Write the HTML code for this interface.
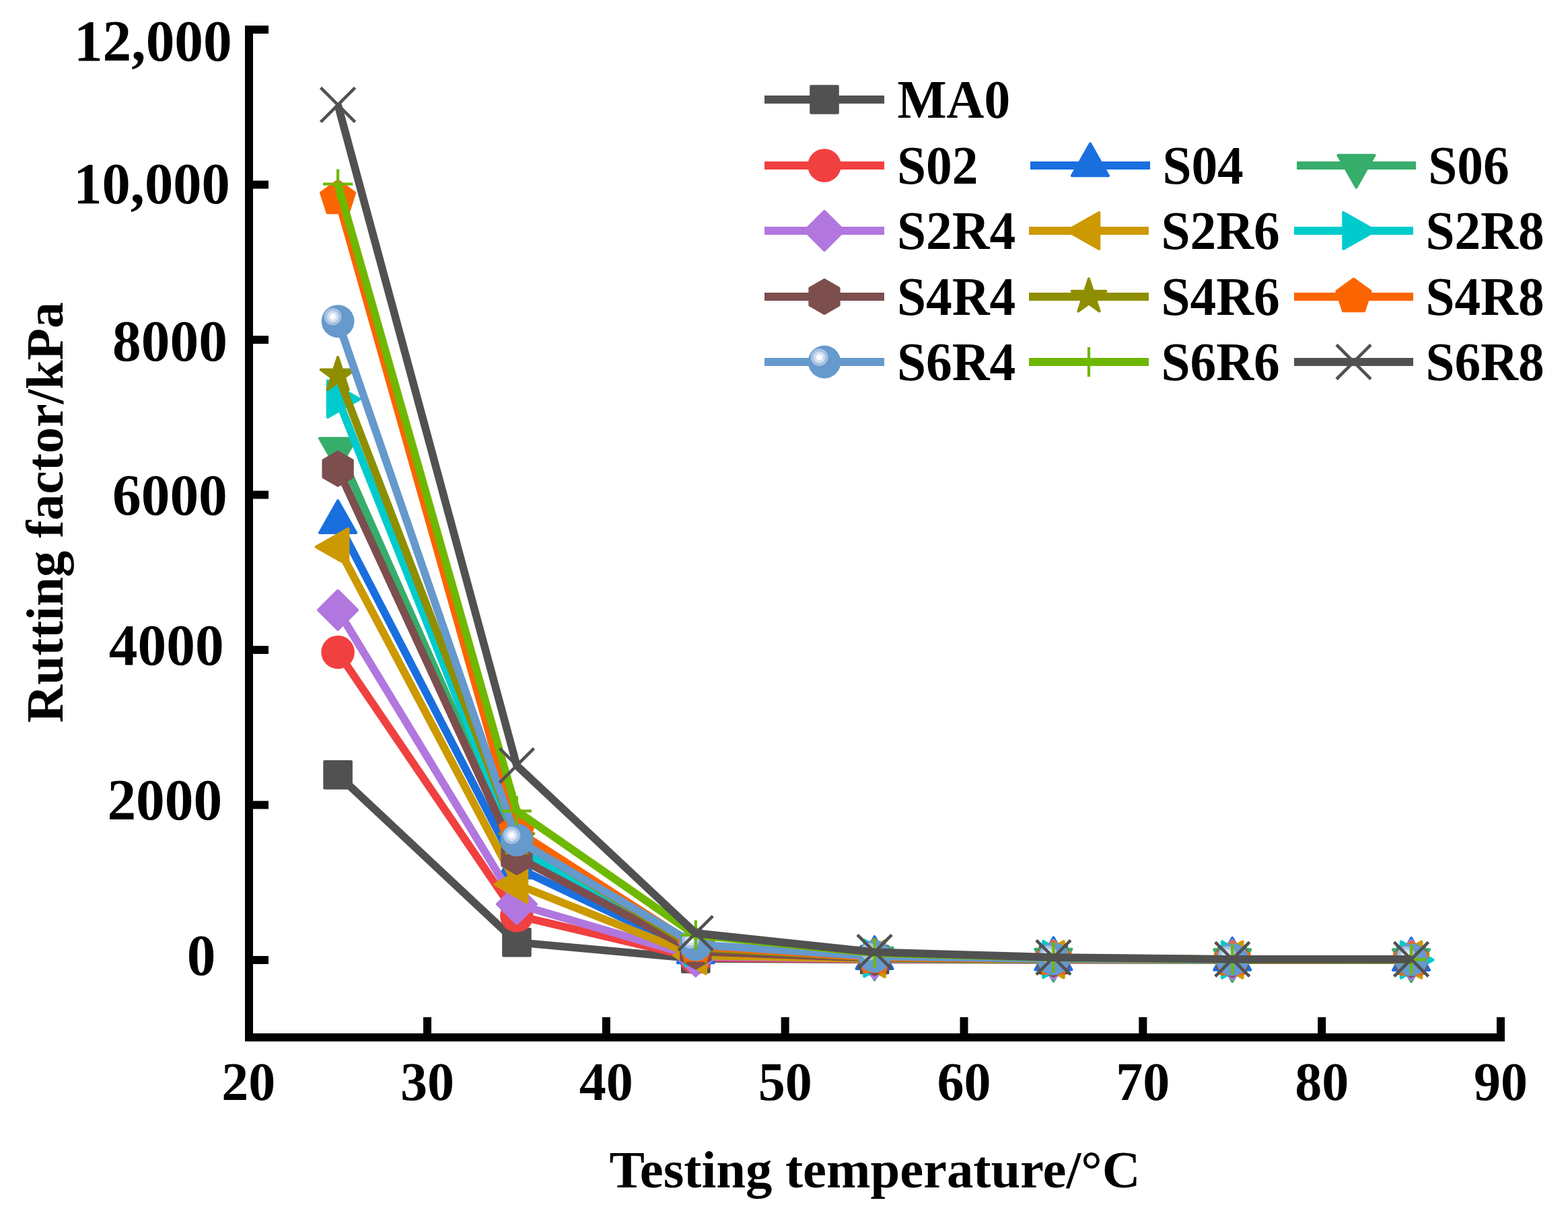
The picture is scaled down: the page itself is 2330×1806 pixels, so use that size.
<!DOCTYPE html>
<html><head><meta charset="utf-8"><style>html,body{margin:0;padding:0;background:#fff;}svg{display:block;}text{font-family:"Liberation Serif","Times New Roman",serif;font-weight:bold;fill:#000;}</style></head><body>
<svg width="2330" height="1806" viewBox="0 0 2330 1806">
<rect width="2330" height="1806" fill="#fff"/>
<g id="plot">
<path d="M502.09,1151.78 L767.91,1400.72 L1033.74,1424.93 L1299.57,1426.42 L1565.4,1426.65 L1831.23,1426.77 L2097.06,1426.88" stroke="#515151" stroke-width="11.6" fill="none" stroke-linejoin="miter" stroke-miterlimit="4"/>
<rect x="482.29" y="1131.98" width="39.6" height="39.6" fill="#515151" stroke="#515151" stroke-width="4.0" stroke-linejoin="round"/>
<rect x="748.12" y="1380.92" width="39.6" height="39.6" fill="#515151" stroke="#515151" stroke-width="4.0" stroke-linejoin="round"/>
<rect x="1013.94" y="1405.13" width="39.6" height="39.6" fill="#515151" stroke="#515151" stroke-width="4.0" stroke-linejoin="round"/>
<rect x="1279.77" y="1406.62" width="39.6" height="39.6" fill="#515151" stroke="#515151" stroke-width="4.0" stroke-linejoin="round"/>
<rect x="1545.61" y="1406.85" width="39.6" height="39.6" fill="#515151" stroke="#515151" stroke-width="4.0" stroke-linejoin="round"/>
<rect x="1811.43" y="1406.97" width="39.6" height="39.6" fill="#515151" stroke="#515151" stroke-width="4.0" stroke-linejoin="round"/>
<rect x="2077.26" y="1407.08" width="39.6" height="39.6" fill="#515151" stroke="#515151" stroke-width="4.0" stroke-linejoin="round"/>
<path d="M502.09,969.46 L767.91,1360.96 L1033.74,1423.54 L1299.57,1425.85 L1565.4,1426.42 L1831.23,1426.65 L2097.06,1426.77" stroke="#F14040" stroke-width="11.6" fill="none" stroke-linejoin="miter" stroke-miterlimit="4"/>
<circle cx="502.09" cy="969.46" r="24.8" fill="#F14040"/>
<circle cx="767.91" cy="1360.96" r="24.8" fill="#F14040"/>
<circle cx="1033.74" cy="1423.54" r="24.8" fill="#F14040"/>
<circle cx="1299.57" cy="1425.85" r="24.8" fill="#F14040"/>
<circle cx="1565.4" cy="1426.42" r="24.8" fill="#F14040"/>
<circle cx="1831.23" cy="1426.65" r="24.8" fill="#F14040"/>
<circle cx="2097.06" cy="1426.77" r="24.8" fill="#F14040"/>
<path d="M502.09,776.64 L767.91,1289.85 L1033.74,1415.94 L1299.57,1424.7 L1565.4,1426.08 L1831.23,1426.54 L2097.06,1426.65" stroke="#1A6FDF" stroke-width="11.6" fill="none" stroke-linejoin="miter" stroke-miterlimit="4"/>
<polygon points="502.09,744.14 529.19,791.94 474.99,791.94" fill="#1A6FDF" stroke="#1A6FDF" stroke-width="4.0" stroke-linejoin="round"/>
<polygon points="767.91,1257.35 795.01,1305.15 740.81,1305.15" fill="#1A6FDF" stroke="#1A6FDF" stroke-width="4.0" stroke-linejoin="round"/>
<polygon points="1033.74,1383.44 1060.84,1431.24 1006.64,1431.24" fill="#1A6FDF" stroke="#1A6FDF" stroke-width="4.0" stroke-linejoin="round"/>
<polygon points="1299.57,1392.2 1326.67,1440 1272.47,1440" fill="#1A6FDF" stroke="#1A6FDF" stroke-width="4.0" stroke-linejoin="round"/>
<polygon points="1565.4,1393.58 1592.5,1441.38 1538.31,1441.38" fill="#1A6FDF" stroke="#1A6FDF" stroke-width="4.0" stroke-linejoin="round"/>
<polygon points="1831.23,1394.04 1858.33,1441.84 1804.13,1441.84" fill="#1A6FDF" stroke="#1A6FDF" stroke-width="4.0" stroke-linejoin="round"/>
<polygon points="2097.06,1394.15 2124.16,1441.95 2069.96,1441.95" fill="#1A6FDF" stroke="#1A6FDF" stroke-width="4.0" stroke-linejoin="round"/>
<path d="M502.09,666.7 L767.91,1268.99 L1033.74,1414.32 L1299.57,1424.12 L1565.4,1426.08 L1831.23,1426.54 L2097.06,1426.65" stroke="#37AD6B" stroke-width="11.6" fill="none" stroke-linejoin="miter" stroke-miterlimit="4"/>
<polygon points="502.09,699.2 529.19,651.4 474.99,651.4" fill="#37AD6B" stroke="#37AD6B" stroke-width="4.0" stroke-linejoin="round"/>
<polygon points="767.91,1301.49 795.01,1253.69 740.81,1253.69" fill="#37AD6B" stroke="#37AD6B" stroke-width="4.0" stroke-linejoin="round"/>
<polygon points="1033.74,1446.82 1060.84,1399.02 1006.64,1399.02" fill="#37AD6B" stroke="#37AD6B" stroke-width="4.0" stroke-linejoin="round"/>
<polygon points="1299.57,1456.62 1326.67,1408.82 1272.47,1408.82" fill="#37AD6B" stroke="#37AD6B" stroke-width="4.0" stroke-linejoin="round"/>
<polygon points="1565.4,1458.58 1592.5,1410.78 1538.31,1410.78" fill="#37AD6B" stroke="#37AD6B" stroke-width="4.0" stroke-linejoin="round"/>
<polygon points="1831.23,1459.04 1858.33,1411.24 1804.13,1411.24" fill="#37AD6B" stroke="#37AD6B" stroke-width="4.0" stroke-linejoin="round"/>
<polygon points="2097.06,1459.15 2124.16,1411.35 2069.96,1411.35" fill="#37AD6B" stroke="#37AD6B" stroke-width="4.0" stroke-linejoin="round"/>
<path d="M502.09,906.76 L767.91,1344.02 L1033.74,1421.81 L1299.57,1425.62 L1565.4,1426.42 L1831.23,1426.65 L2097.06,1426.77" stroke="#B177DE" stroke-width="11.6" fill="none" stroke-linejoin="miter" stroke-miterlimit="4"/>
<polygon points="502.09,877.76 531.09,906.76 502.09,935.76 473.09,906.76" fill="#B177DE" stroke="#B177DE" stroke-width="4.0" stroke-linejoin="round"/>
<polygon points="767.91,1315.02 796.91,1344.02 767.91,1373.02 738.91,1344.02" fill="#B177DE" stroke="#B177DE" stroke-width="4.0" stroke-linejoin="round"/>
<polygon points="1033.74,1392.81 1062.74,1421.81 1033.74,1450.81 1004.74,1421.81" fill="#B177DE" stroke="#B177DE" stroke-width="4.0" stroke-linejoin="round"/>
<polygon points="1299.57,1396.62 1328.57,1425.62 1299.57,1454.62 1270.57,1425.62" fill="#B177DE" stroke="#B177DE" stroke-width="4.0" stroke-linejoin="round"/>
<polygon points="1565.4,1397.42 1594.4,1426.42 1565.4,1455.42 1536.4,1426.42" fill="#B177DE" stroke="#B177DE" stroke-width="4.0" stroke-linejoin="round"/>
<polygon points="1831.23,1397.65 1860.23,1426.65 1831.23,1455.65 1802.23,1426.65" fill="#B177DE" stroke="#B177DE" stroke-width="4.0" stroke-linejoin="round"/>
<polygon points="2097.06,1397.77 2126.06,1426.77 2097.06,1455.77 2068.06,1426.77" fill="#B177DE" stroke="#B177DE" stroke-width="4.0" stroke-linejoin="round"/>
<path d="M502.09,812.95 L767.91,1314.63 L1033.74,1420.32 L1299.57,1425.27 L1565.4,1426.31 L1831.23,1426.65 L2097.06,1426.77" stroke="#CC9900" stroke-width="11.6" fill="none" stroke-linejoin="miter" stroke-miterlimit="4"/>
<polygon points="469.59,812.95 517.38,785.85 517.38,840.05" fill="#CC9900" stroke="#CC9900" stroke-width="4.0" stroke-linejoin="round"/>
<polygon points="735.41,1314.63 783.21,1287.53 783.21,1341.73" fill="#CC9900" stroke="#CC9900" stroke-width="4.0" stroke-linejoin="round"/>
<polygon points="1001.24,1420.32 1049.04,1393.22 1049.04,1447.42" fill="#CC9900" stroke="#CC9900" stroke-width="4.0" stroke-linejoin="round"/>
<polygon points="1267.07,1425.27 1314.87,1398.17 1314.87,1452.37" fill="#CC9900" stroke="#CC9900" stroke-width="4.0" stroke-linejoin="round"/>
<polygon points="1532.9,1426.31 1580.7,1399.21 1580.7,1453.41" fill="#CC9900" stroke="#CC9900" stroke-width="4.0" stroke-linejoin="round"/>
<polygon points="1798.73,1426.65 1846.53,1399.55 1846.53,1453.75" fill="#CC9900" stroke="#CC9900" stroke-width="4.0" stroke-linejoin="round"/>
<polygon points="2064.56,1426.77 2112.36,1399.67 2112.36,1453.87" fill="#CC9900" stroke="#CC9900" stroke-width="4.0" stroke-linejoin="round"/>
<path d="M502.09,593.17 L767.91,1261.39 L1033.74,1408.56 L1299.57,1424.46 L1565.4,1426.08 L1831.23,1426.54 L2097.06,1426.65" stroke="#00CBCC" stroke-width="11.6" fill="none" stroke-linejoin="miter" stroke-miterlimit="4"/>
<polygon points="534.59,593.17 486.79,566.07 486.79,620.27" fill="#00CBCC" stroke="#00CBCC" stroke-width="4.0" stroke-linejoin="round"/>
<polygon points="800.41,1261.39 752.62,1234.29 752.62,1288.49" fill="#00CBCC" stroke="#00CBCC" stroke-width="4.0" stroke-linejoin="round"/>
<polygon points="1066.24,1408.56 1018.44,1381.46 1018.44,1435.66" fill="#00CBCC" stroke="#00CBCC" stroke-width="4.0" stroke-linejoin="round"/>
<polygon points="1332.07,1424.46 1284.27,1397.36 1284.27,1451.56" fill="#00CBCC" stroke="#00CBCC" stroke-width="4.0" stroke-linejoin="round"/>
<polygon points="1597.9,1426.08 1550.11,1398.98 1550.11,1453.18" fill="#00CBCC" stroke="#00CBCC" stroke-width="4.0" stroke-linejoin="round"/>
<polygon points="1863.73,1426.54 1815.93,1399.44 1815.93,1453.64" fill="#00CBCC" stroke="#00CBCC" stroke-width="4.0" stroke-linejoin="round"/>
<polygon points="2129.56,1426.65 2081.76,1399.55 2081.76,1453.75" fill="#00CBCC" stroke="#00CBCC" stroke-width="4.0" stroke-linejoin="round"/>
<path d="M502.09,696.78 L767.91,1273.95 L1033.74,1414.32 L1299.57,1424.12 L1565.4,1425.96 L1831.23,1426.54 L2097.06,1426.65" stroke="#7D4E4E" stroke-width="11.6" fill="none" stroke-linejoin="miter" stroke-miterlimit="4"/>
<polygon points="502.09,671.78 523.74,684.28 523.74,709.28 502.09,721.78 480.43,709.28 480.43,684.28" fill="#7D4E4E" stroke="#7D4E4E" stroke-width="4.0" stroke-linejoin="round"/>
<polygon points="767.91,1248.95 789.57,1261.45 789.57,1286.45 767.91,1298.95 746.26,1286.45 746.26,1261.45" fill="#7D4E4E" stroke="#7D4E4E" stroke-width="4.0" stroke-linejoin="round"/>
<polygon points="1033.74,1389.32 1055.4,1401.82 1055.4,1426.82 1033.74,1439.32 1012.09,1426.82 1012.09,1401.82" fill="#7D4E4E" stroke="#7D4E4E" stroke-width="4.0" stroke-linejoin="round"/>
<polygon points="1299.57,1399.12 1321.23,1411.62 1321.23,1436.62 1299.57,1449.12 1277.92,1436.62 1277.92,1411.62" fill="#7D4E4E" stroke="#7D4E4E" stroke-width="4.0" stroke-linejoin="round"/>
<polygon points="1565.4,1400.96 1587.06,1413.46 1587.06,1438.46 1565.4,1450.96 1543.75,1438.46 1543.75,1413.46" fill="#7D4E4E" stroke="#7D4E4E" stroke-width="4.0" stroke-linejoin="round"/>
<polygon points="1831.23,1401.54 1852.89,1414.04 1852.89,1439.04 1831.23,1451.54 1809.58,1439.04 1809.58,1414.04" fill="#7D4E4E" stroke="#7D4E4E" stroke-width="4.0" stroke-linejoin="round"/>
<polygon points="2097.06,1401.65 2118.72,1414.15 2118.72,1439.15 2097.06,1451.65 2075.41,1439.15 2075.41,1414.15" fill="#7D4E4E" stroke="#7D4E4E" stroke-width="4.0" stroke-linejoin="round"/>
<path d="M502.09,557.67 L767.91,1247.33 L1033.74,1408.56 L1299.57,1423.54 L1565.4,1425.85 L1831.23,1426.42 L2097.06,1426.65" stroke="#8E8E00" stroke-width="11.6" fill="none" stroke-linejoin="miter" stroke-miterlimit="4"/>
<polygon points="502.09,530.97 508.08,549.42 527.48,549.42 511.79,560.82 517.78,579.27 502.09,567.87 486.39,579.27 492.38,560.82 476.69,549.42 496.09,549.42" fill="#8E8E00" stroke="#8E8E00" stroke-width="4.0" stroke-linejoin="round"/>
<polygon points="767.91,1220.63 773.91,1239.07 793.31,1239.07 777.62,1250.48 783.61,1268.93 767.91,1257.52 752.22,1268.93 758.21,1250.48 742.52,1239.07 761.92,1239.07" fill="#8E8E00" stroke="#8E8E00" stroke-width="4.0" stroke-linejoin="round"/>
<polygon points="1033.74,1381.86 1039.74,1400.31 1059.14,1400.31 1043.45,1411.71 1049.44,1430.16 1033.74,1418.76 1018.05,1430.16 1024.04,1411.71 1008.35,1400.31 1027.75,1400.31" fill="#8E8E00" stroke="#8E8E00" stroke-width="4.0" stroke-linejoin="round"/>
<polygon points="1299.57,1396.84 1305.57,1415.29 1324.97,1415.29 1309.28,1426.69 1315.27,1445.14 1299.57,1433.74 1283.88,1445.14 1289.87,1426.69 1274.18,1415.29 1293.58,1415.29" fill="#8E8E00" stroke="#8E8E00" stroke-width="4.0" stroke-linejoin="round"/>
<polygon points="1565.4,1399.15 1571.4,1417.6 1590.8,1417.6 1575.11,1429 1581.1,1447.45 1565.4,1436.05 1549.71,1447.45 1555.7,1429 1540.01,1417.6 1559.41,1417.6" fill="#8E8E00" stroke="#8E8E00" stroke-width="4.0" stroke-linejoin="round"/>
<polygon points="1831.23,1399.72 1837.23,1418.17 1856.63,1418.17 1840.94,1429.58 1846.93,1448.02 1831.23,1436.62 1815.54,1448.02 1821.53,1429.58 1805.84,1418.17 1825.24,1418.17" fill="#8E8E00" stroke="#8E8E00" stroke-width="4.0" stroke-linejoin="round"/>
<polygon points="2097.06,1399.95 2103.06,1418.4 2122.46,1418.4 2106.77,1429.81 2112.76,1448.26 2097.06,1436.85 2081.37,1448.26 2087.36,1429.81 2071.67,1418.4 2091.07,1418.4" fill="#8E8E00" stroke="#8E8E00" stroke-width="4.0" stroke-linejoin="round"/>
<path d="M502.09,294.9 L767.91,1234.99 L1033.74,1406.02 L1299.57,1422.97 L1565.4,1425.62 L1831.23,1426.42 L2097.06,1426.65" stroke="#FB6501" stroke-width="11.6" fill="none" stroke-linejoin="miter" stroke-miterlimit="4"/>
<polygon points="502.09,268.5 527.19,286.74 517.6,316.26 486.57,316.26 476.98,286.74" fill="#FB6501" stroke="#FB6501" stroke-width="4.0" stroke-linejoin="round"/>
<polygon points="767.91,1208.59 793.02,1226.84 783.43,1256.35 752.4,1256.35 742.81,1226.84" fill="#FB6501" stroke="#FB6501" stroke-width="4.0" stroke-linejoin="round"/>
<polygon points="1033.74,1379.62 1058.85,1397.87 1049.26,1427.38 1018.23,1427.38 1008.64,1397.87" fill="#FB6501" stroke="#FB6501" stroke-width="4.0" stroke-linejoin="round"/>
<polygon points="1299.57,1396.57 1324.68,1414.81 1315.09,1444.32 1284.06,1444.32 1274.47,1414.81" fill="#FB6501" stroke="#FB6501" stroke-width="4.0" stroke-linejoin="round"/>
<polygon points="1565.4,1399.22 1590.51,1417.46 1580.92,1446.98 1549.89,1446.98 1540.3,1417.46" fill="#FB6501" stroke="#FB6501" stroke-width="4.0" stroke-linejoin="round"/>
<polygon points="1831.23,1400.02 1856.34,1418.27 1846.75,1447.78 1815.72,1447.78 1806.13,1418.27" fill="#FB6501" stroke="#FB6501" stroke-width="4.0" stroke-linejoin="round"/>
<polygon points="2097.06,1400.25 2122.17,1418.5 2112.58,1448.01 2081.55,1448.01 2071.96,1418.5" fill="#FB6501" stroke="#FB6501" stroke-width="4.0" stroke-linejoin="round"/>
<path d="M502.09,477.57 L767.91,1248.48 L1033.74,1403.95 L1299.57,1421.47 L1565.4,1425.27 L1831.23,1426.31 L2097.06,1426.54" stroke="#6699CC" stroke-width="11.6" fill="none" stroke-linejoin="miter" stroke-miterlimit="4"/>
<circle cx="502.09" cy="477.57" r="24.4" fill="#6699CC"/><circle cx="494.59" cy="470.67" r="12.9" fill="#A7C2E2"/><circle cx="494.59" cy="470.67" r="8.6" fill="#D2E0F1"/><circle cx="494.59" cy="470.67" r="4.6" fill="#FAFCFE"/>
<circle cx="767.91" cy="1248.48" r="24.4" fill="#6699CC"/><circle cx="760.41" cy="1241.58" r="12.9" fill="#A7C2E2"/><circle cx="760.41" cy="1241.58" r="8.6" fill="#D2E0F1"/><circle cx="760.41" cy="1241.58" r="4.6" fill="#FAFCFE"/>
<circle cx="1033.74" cy="1403.95" r="24.4" fill="#6699CC"/><circle cx="1026.24" cy="1397.05" r="12.9" fill="#A7C2E2"/><circle cx="1026.24" cy="1397.05" r="8.6" fill="#D2E0F1"/><circle cx="1026.24" cy="1397.05" r="4.6" fill="#FAFCFE"/>
<circle cx="1299.57" cy="1421.47" r="24.4" fill="#6699CC"/><circle cx="1292.07" cy="1414.57" r="12.9" fill="#A7C2E2"/><circle cx="1292.07" cy="1414.57" r="8.6" fill="#D2E0F1"/><circle cx="1292.07" cy="1414.57" r="4.6" fill="#FAFCFE"/>
<circle cx="1565.4" cy="1425.27" r="24.4" fill="#6699CC"/><circle cx="1557.9" cy="1418.37" r="12.9" fill="#A7C2E2"/><circle cx="1557.9" cy="1418.37" r="8.6" fill="#D2E0F1"/><circle cx="1557.9" cy="1418.37" r="4.6" fill="#FAFCFE"/>
<circle cx="1831.23" cy="1426.31" r="24.4" fill="#6699CC"/><circle cx="1823.73" cy="1419.41" r="12.9" fill="#A7C2E2"/><circle cx="1823.73" cy="1419.41" r="8.6" fill="#D2E0F1"/><circle cx="1823.73" cy="1419.41" r="4.6" fill="#FAFCFE"/>
<circle cx="2097.06" cy="1426.54" r="24.4" fill="#6699CC"/><circle cx="2089.56" cy="1419.64" r="12.9" fill="#A7C2E2"/><circle cx="2089.56" cy="1419.64" r="8.6" fill="#D2E0F1"/><circle cx="2089.56" cy="1419.64" r="4.6" fill="#FAFCFE"/>
<path d="M502.09,273.58 L767.91,1205.49 L1033.74,1390 L1299.57,1416.63 L1565.4,1423.54 L1831.23,1426.08 L2097.06,1426.42" stroke="#6FB802" stroke-width="11.6" fill="none" stroke-linejoin="miter" stroke-miterlimit="4"/>
<rect x="480.09" y="271.48" width="44" height="4.2" fill="#6FB802"/><rect x="499.99" y="251.58" width="4.2" height="44" fill="#6FB802"/>
<rect x="745.91" y="1203.39" width="44" height="4.2" fill="#6FB802"/><rect x="765.81" y="1183.49" width="4.2" height="44" fill="#6FB802"/>
<rect x="1011.74" y="1387.9" width="44" height="4.2" fill="#6FB802"/><rect x="1031.64" y="1368" width="4.2" height="44" fill="#6FB802"/>
<rect x="1277.57" y="1414.53" width="44" height="4.2" fill="#6FB802"/><rect x="1297.47" y="1394.63" width="4.2" height="44" fill="#6FB802"/>
<rect x="1543.4" y="1421.44" width="44" height="4.2" fill="#6FB802"/><rect x="1563.31" y="1401.54" width="4.2" height="44" fill="#6FB802"/>
<rect x="1809.23" y="1423.98" width="44" height="4.2" fill="#6FB802"/><rect x="1829.13" y="1404.08" width="4.2" height="44" fill="#6FB802"/>
<rect x="2075.06" y="1424.32" width="44" height="4.2" fill="#6FB802"/><rect x="2094.96" y="1404.42" width="4.2" height="44" fill="#6FB802"/>
<path d="M502.09,155.79 L767.91,1137.95 L1033.74,1387.12 L1299.57,1415.24 L1565.4,1423.08 L1831.23,1425.85 L2097.06,1425.85" stroke="#515151" stroke-width="11.6" fill="none" stroke-linejoin="miter" stroke-miterlimit="4"/>
<path d="M476.59,130.29L527.59,181.29M527.59,130.29L476.59,181.29" stroke="#515151" stroke-width="4.6" fill="none"/>
<path d="M742.41,1112.45L793.41,1163.45M793.41,1112.45L742.41,1163.45" stroke="#515151" stroke-width="4.6" fill="none"/>
<path d="M1008.24,1361.62L1059.24,1412.62M1059.24,1361.62L1008.24,1412.62" stroke="#515151" stroke-width="4.6" fill="none"/>
<path d="M1274.07,1389.74L1325.07,1440.74M1325.07,1389.74L1274.07,1440.74" stroke="#515151" stroke-width="4.6" fill="none"/>
<path d="M1539.9,1397.58L1590.9,1448.58M1590.9,1397.58L1539.9,1448.58" stroke="#515151" stroke-width="4.6" fill="none"/>
<path d="M1805.73,1400.35L1856.73,1451.35M1856.73,1400.35L1805.73,1451.35" stroke="#515151" stroke-width="4.6" fill="none"/>
<path d="M2071.56,1400.35L2122.56,1451.35M2122.56,1400.35L2071.56,1451.35" stroke="#515151" stroke-width="4.6" fill="none"/>
</g>
<g id="axes" fill="#000">
<rect x="364" y="38" width="12" height="1510"/>
<rect x="364" y="1536" width="1872" height="12"/>
<rect x="376" y="1421" width="23" height="12"/>
<rect x="376" y="1190.5" width="23" height="12"/>
<rect x="376" y="960" width="23" height="12"/>
<rect x="376" y="729.5" width="23" height="12"/>
<rect x="376" y="499" width="23" height="12"/>
<rect x="376" y="268.5" width="23" height="12"/>
<rect x="376" y="38" width="23" height="12"/>
<rect x="629" y="1512" width="12" height="24"/>
<rect x="894.83" y="1512" width="12" height="24"/>
<rect x="1160.66" y="1512" width="12" height="24"/>
<rect x="1426.49" y="1512" width="12" height="24"/>
<rect x="1692.32" y="1512" width="12" height="24"/>
<rect x="1958.15" y="1512" width="12" height="24"/>
<rect x="2223.98" y="1512" width="12" height="24"/>
</g>
<text transform="translate(109.9,90.2) scale(1.005,1.028)" font-size="85">12,000</text>
<text transform="translate(109.2,301.5) scale(0.995,1.028)" font-size="85">10,000</text>
<text transform="translate(167.1,536.0) scale(1.005,1.028)" font-size="85">8000</text>
<text transform="translate(167.0,765.0) scale(1.005,1.028)" font-size="85">6000</text>
<text transform="translate(161.8,988.2) scale(1.005,1.028)" font-size="85">4000</text>
<text transform="translate(159.4,1217.6) scale(1.005,1.028)" font-size="85">2000</text>
<text transform="translate(277.7,1449.0) scale(1.005,1.028)" font-size="85">0</text>
<text x="369.17" y="1635.2" font-size="80" text-anchor="middle">20</text>
<text x="635" y="1635.2" font-size="80" text-anchor="middle">30</text>
<text x="900.83" y="1635.2" font-size="80" text-anchor="middle">40</text>
<text x="1166.66" y="1635.2" font-size="80" text-anchor="middle">50</text>
<text x="1432.49" y="1635.2" font-size="80" text-anchor="middle">60</text>
<text x="1698.32" y="1635.2" font-size="80" text-anchor="middle">70</text>
<text x="1964.15" y="1635.2" font-size="80" text-anchor="middle">80</text>
<text x="2229.98" y="1635.2" font-size="80" text-anchor="middle">90</text>
<text x="905.6" y="1765.4" font-size="78.6">Testing temperature/°C</text>
<text transform="translate(92.8,1074.2) rotate(-90)" x="0" y="0" font-size="77.9">Rutting factor/kPa</text>
<g id="legend">
<rect x="1136" y="142" width="178" height="12" fill="#515151"/>
<rect x="1205.2" y="128.2" width="39.6" height="39.6" fill="#515151" stroke="#515151" stroke-width="4.0" stroke-linejoin="round"/>
<text transform="translate(1333.5,175.3) scale(0.967,1)" font-size="80">MA0</text>
<rect x="1136" y="240" width="178" height="12" fill="#F14040"/>
<circle cx="1225" cy="246" r="24.8" fill="#F14040"/>
<text transform="translate(1333,273.3) scale(0.967,1)" font-size="80">S02</text>
<rect x="1531" y="240" width="178" height="12" fill="#1A6FDF"/>
<polygon points="1620,213.5 1647.1,261.3 1592.9,261.3" fill="#1A6FDF" stroke="#1A6FDF" stroke-width="4.0" stroke-linejoin="round"/>
<text transform="translate(1727.4,273.3) scale(0.967,1)" font-size="80">S04</text>
<rect x="1927" y="240" width="177" height="12" fill="#37AD6B"/>
<polygon points="2015.4,278.5 2042.5,230.7 1988.3,230.7" fill="#37AD6B" stroke="#37AD6B" stroke-width="4.0" stroke-linejoin="round"/>
<text transform="translate(2122.2,273.3) scale(0.967,1)" font-size="80">S06</text>
<rect x="1136" y="337" width="178" height="12" fill="#B177DE"/>
<polygon points="1225,314 1254,343 1225,372 1196,343" fill="#B177DE" stroke="#B177DE" stroke-width="4.0" stroke-linejoin="round"/>
<text transform="translate(1333,370.3) scale(0.967,1)" font-size="80">S2R4</text>
<rect x="1529" y="337" width="178" height="12" fill="#CC9900"/>
<polygon points="1585.5,343 1633.3,315.9 1633.3,370.1" fill="#CC9900" stroke="#CC9900" stroke-width="4.0" stroke-linejoin="round"/>
<text transform="translate(1725.5,370.3) scale(0.967,1)" font-size="80">S2R6</text>
<rect x="1923" y="337" width="177" height="12" fill="#00CBCC"/>
<polygon points="2044,343 1996.2,315.9 1996.2,370.1" fill="#00CBCC" stroke="#00CBCC" stroke-width="4.0" stroke-linejoin="round"/>
<text transform="translate(2118.4,370.3) scale(0.967,1)" font-size="80">S2R8</text>
<rect x="1136" y="435" width="178" height="12" fill="#7D4E4E"/>
<polygon points="1225,416 1246.65,428.5 1246.65,453.5 1225,466 1203.35,453.5 1203.35,428.5" fill="#7D4E4E" stroke="#7D4E4E" stroke-width="4.0" stroke-linejoin="round"/>
<text transform="translate(1333,468.3) scale(0.967,1)" font-size="80">S4R4</text>
<rect x="1529" y="435" width="178" height="12" fill="#8E8E00"/>
<polygon points="1618,414.3 1624,432.75 1643.39,432.75 1627.7,444.15 1633.69,462.6 1618,451.2 1602.31,462.6 1608.3,444.15 1592.61,432.75 1612,432.75" fill="#8E8E00" stroke="#8E8E00" stroke-width="4.0" stroke-linejoin="round"/>
<text transform="translate(1725.5,468.3) scale(0.967,1)" font-size="80">S4R6</text>
<rect x="1923" y="435" width="177" height="12" fill="#FB6501"/>
<polygon points="2011.5,414.6 2036.61,432.84 2027.02,462.36 1995.98,462.36 1986.39,432.84" fill="#FB6501" stroke="#FB6501" stroke-width="4.0" stroke-linejoin="round"/>
<text transform="translate(2118.4,468.3) scale(0.967,1)" font-size="80">S4R8</text>
<rect x="1136" y="532" width="178" height="12" fill="#6699CC"/>
<circle cx="1225" cy="538" r="24.4" fill="#6699CC"/><circle cx="1217.5" cy="531.1" r="12.9" fill="#A7C2E2"/><circle cx="1217.5" cy="531.1" r="8.6" fill="#D2E0F1"/><circle cx="1217.5" cy="531.1" r="4.6" fill="#FAFCFE"/>
<text transform="translate(1333,565.3) scale(0.967,1)" font-size="80">S6R4</text>
<rect x="1529" y="532" width="178" height="12" fill="#6FB802"/>
<rect x="1596" y="535.9" width="44" height="4.2" fill="#6FB802"/><rect x="1615.9" y="516" width="4.2" height="44" fill="#6FB802"/>
<text transform="translate(1725.5,565.3) scale(0.967,1)" font-size="80">S6R6</text>
<rect x="1923" y="532" width="177" height="12" fill="#515151"/>
<path d="M1986,512.5L2037,563.5M2037,512.5L1986,563.5" stroke="#515151" stroke-width="4.6" fill="none"/>
<text transform="translate(2118.4,565.3) scale(0.967,1)" font-size="80">S6R8</text>
</g>
</svg></body></html>
